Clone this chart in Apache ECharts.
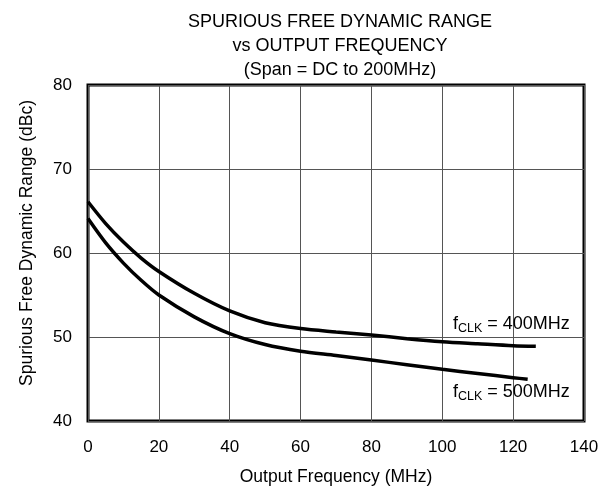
<!DOCTYPE html>
<html>
<head>
<meta charset="utf-8">
<script src="https://cdn.jsdelivr.net/npm/echarts@6/dist/echarts.min.js"></script>
<style>html,body{margin:0;padding:0;background:#fff}#c{width:611px;height:496px}</style>
</head>
<body>
<div id="c"></div>
<script>
var freqUpper = [0, 5, 10, 15, 20, 30, 40, 50, 60, 70, 80, 90, 100, 110, 120, 126.4];
var sfdr400 = [66.1, 63.5, 61.3, 59.4, 57.8, 55.2, 53.1, 51.7, 51.0, 50.6, 50.24, 49.8, 49.44, 49.2, 48.97, 48.9];
var freqLower = [0, 5, 10, 15, 20, 30, 40, 50, 60, 70, 80, 90, 100, 110, 120, 124.1];
var sfdr500 = [64.1, 61.2, 58.8, 56.75, 55.0, 52.4, 50.4, 49.1, 48.3, 47.8, 47.26, 46.7, 46.15, 45.65, 45.16, 44.96];
var xTicks = [0, 20, 40, 60, 80, 100, 120, 140];
var yTicks = [40, 50, 60, 70, 80];
var label400 = [103.0, 51.6];
var label500 = [103.0, 43.5];

function pairs(xs, ys){ return xs.map(function(x,i){ return [x, ys[i]]; }); }
var font = 'Liberation Sans, Arial, Helvetica, sans-serif';
var rich = {
  f: {fontSize: 18, fontFamily: font, color: '#000', lineHeight: 22},
  s: {fontSize: 12.5, fontFamily: font, color: '#000', lineHeight: 22, padding: [10, 0, 0, 0]}
};
var chart = echarts.init(document.getElementById('c'), null, {renderer: 'canvas'});
chart.setOption({
  animation: false,
  backgroundColor: '#fff',
  textStyle: {fontFamily: font},
  title: {
    text: 'SPURIOUS FREE DYNAMIC RANGE\nvs OUTPUT FREQUENCY\n(Span = DC to 200MHz)',
    left: 335, top: 5, textAlign: 'center',
    textStyle: {fontSize: 18, fontWeight: 'normal', color: '#000', lineHeight: 24, fontFamily: font}
  },
  grid: {left: 88, right: 27, top: 85, bottom: 75, show: true, borderColor: '#000', borderWidth: 3, containLabel: false},
  xAxis: {
    type: 'value', min: xTicks[0], max: xTicks[xTicks.length-1], interval: 20,
    name: 'Output Frequency (MHz)', nameLocation: 'middle', nameGap: 47,
    nameTextStyle: {fontSize: 17.5, color: '#000', fontFamily: font},
    axisLine: {show: false}, axisTick: {show: false},
    axisLabel: {fontSize: 17, color: '#000', margin: 18, fontFamily: font},
    splitLine: {show: true, lineStyle: {color: '#555', width: 1}}
  },
  yAxis: {
    type: 'value', min: yTicks[0], max: yTicks[yTicks.length-1], interval: 10,
    name: 'Spurious Free Dynamic Range (dBc)', nameLocation: 'middle', nameGap: 52,
    nameTextStyle: {fontSize: 17.5, color: '#000', fontFamily: font, padding: [0, 0, 0, 20]},
    axisLine: {show: false}, axisTick: {show: false},
    axisLabel: {fontSize: 17, color: '#000', margin: 16, fontFamily: font},
    splitLine: {show: true, lineStyle: {color: '#555', width: 1}}
  },
  series: [
    {
      type: 'line', name: 'fCLK = 400MHz', data: pairs(freqUpper, sfdr400), smooth: 0.3,
      showSymbol: false, lineStyle: {color: '#000', width: 3.5}, z: 5,
      markPoint: {
        symbolSize: 0, silent: true,
        data: [{coord: label400, label: {show: true, position: 'right', distance: 0,
          formatter: '{f|f}{s|CLK}{f| = 400MHz}', rich: rich}}]
      }
    },
    {
      type: 'line', name: 'fCLK = 500MHz', data: pairs(freqLower, sfdr500), smooth: 0.3,
      showSymbol: false, lineStyle: {color: '#000', width: 3.5}, z: 5,
      markPoint: {
        symbolSize: 0, silent: true,
        data: [{coord: label500, label: {show: true, position: 'right', distance: 0,
          formatter: '{f|f}{s|CLK}{f| = 500MHz}', rich: rich}}]
      }
    }
  ]
});
</script>
</body>
</html>
